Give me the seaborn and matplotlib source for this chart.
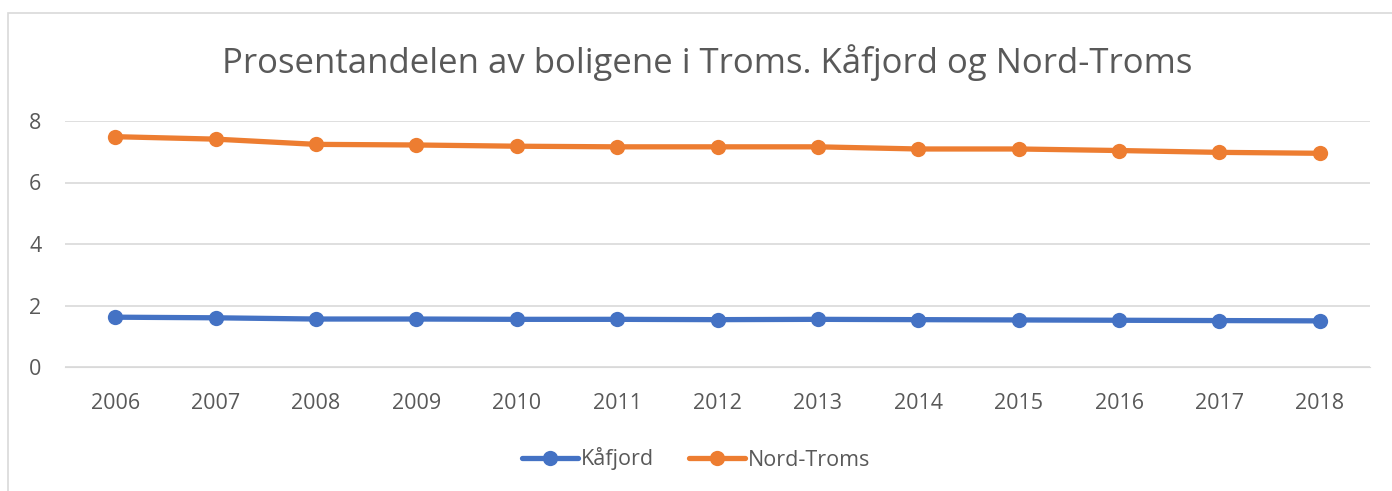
import numpy as np
import pandas as pd
import seaborn as sns
import matplotlib.pyplot as plt
from matplotlib.patches import Rectangle

years = [2006, 2007, 2008, 2009, 2010, 2011, 2012, 2013, 2014, 2015, 2016, 2017, 2018]
kafjord = [1.62, 1.60, 1.56, 1.56, 1.55, 1.55, 1.54, 1.55, 1.54, 1.53, 1.52, 1.51, 1.50]
nord_troms = [7.49, 7.41, 7.24, 7.22, 7.18, 7.16, 7.16, 7.16, 7.09, 7.09, 7.04, 6.98, 6.95]
series_names = ['Kåfjord', 'Nord-Troms']
colors = ['#4472C4', '#ED7D31']

df = pd.DataFrame({
    'år': years * 2,
    'andel': kafjord + nord_troms,
    'område': [series_names[0]] * len(years) + [series_names[1]] * len(years),
})

sns.set_style("white")
plt.rcParams['font.family'] = ['Open Sans', 'DejaVu Sans']

fig = plt.figure(figsize=(13.92, 4.91), dpi=100)
ax = fig.add_axes([65 / 1392, 1 - 367 / 491, 1305 / 1392, 246 / 491])

sns.lineplot(data=df, x='år', y='andel', hue='område', palette=colors,
             marker='o', markersize=11, markeredgewidth=0, linewidth=3.8,
             ax=ax, legend=False)

ax.set_xlim(years[0] - 0.5, years[-1] + 0.5)
ax.set_ylim(0, 8)
ax.set_xticks(years)
ax.set_yticks([0, 2, 4, 6, 8])
ax.set_xlabel('')
ax.set_ylabel('')
ax.grid(axis='y', color='#d9d9d9', linewidth=1.2)
ax.grid(axis='x', visible=False)
for s in ax.spines.values():
    s.set_visible(False)
ax.spines['bottom'].set_visible(True)
ax.spines['bottom'].set_color('#d9d9d9')
ax.tick_params(axis='both', length=0, labelsize=15.5, colors='#595959')
ax.tick_params(axis='x', pad=19)
ax.tick_params(axis='y', pad=17)

fig.text(0.508, 1 - 63 / 491, 'Prosentandelen av boligene i Troms. Kåfjord og Nord-Troms',
         ha='center', va='center', fontsize=25, color='#595959')

handles = [plt.Line2D([], [], color=c, marker='o', markersize=11, markeredgewidth=0,
                      linewidth=3.8, solid_capstyle='round') for c in colors]
fig.legend(handles, series_names, loc='center', bbox_to_anchor=(0.5, 1 - 459 / 491),
           ncol=2, frameon=False, fontsize=15.5, labelcolor='#595959',
           handlelength=2.6, handletextpad=0.15, columnspacing=1.6)

fig.add_artist(Rectangle((8 / 1392, -0.05), 1.1, 1 - 13 / 491 + 0.05,
                         transform=fig.transFigure, fill=False,
                         edgecolor='#d9d9d9', linewidth=1.2))

fig.savefig('out.png', dpi=100)
